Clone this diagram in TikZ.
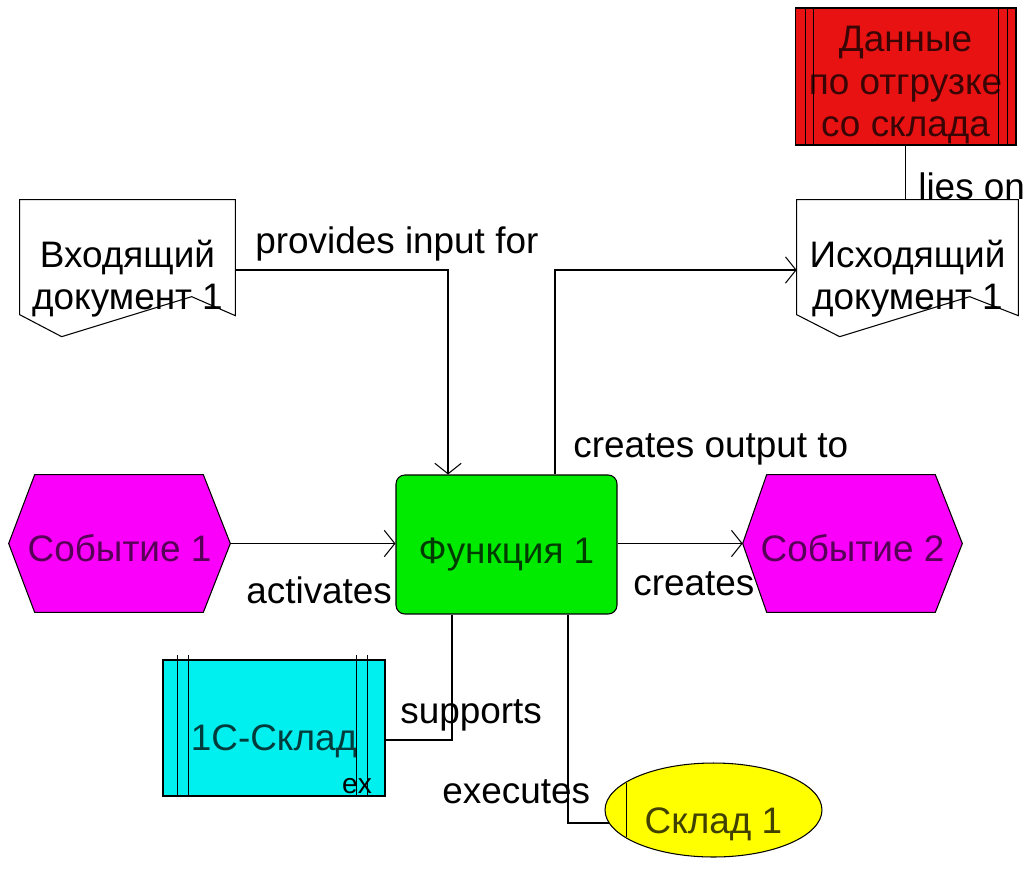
\documentclass[tikz,border=0pt]{standalone}
\usepackage{fontspec}
\setmainfont{Liberation Sans}
\usepackage{tikz}
\usetikzlibrary{arrows,shapes,calc}
\usetikzlibrary{arrows.meta,positioning,backgrounds}
\definecolor{evmag}{RGB}{250,0,250}
\definecolor{fngreen}{RGB}{0,235,0}
\definecolor{datared}{RGB}{232,18,18}
\definecolor{syscyan}{RGB}{0,240,240}
\definecolor{orgyel}{RGB}{255,255,0}
\tikzstyle{conn}=[draw,line width=0.6pt]
\tikzstyle{arrow}=[draw,-{Straight Barb[length=6pt,width=15pt]},line width=0.6pt]
\tikzstyle{lbl}=[anchor=base west,inner sep=0pt]
\tikzstyle{docbox}=[minimum height=3.2cm,align=center,inner sep=0pt,text height=34pt,text depth=0pt]
\tikzstyle{evbox}=[minimum height=2.74cm,inner sep=0pt,text=evmag!35!black,text height=20pt,text depth=0pt]
\tikzstyle{outline}=[draw,line width=0.6pt]

\begin{document}
\begin{tikzpicture}[x=0.02cm,y=-0.02cm,font=\fontsize{21}{24}\selectfont]
\useasboundingbox (0,0) rectangle (1028,890);

\node [docbox,minimum width=4.3cm] (indoc) at (127.5,280) {Входящий\\документ 1};
\node [docbox,minimum width=4.42cm] (outdoc) at (907.5,280) {Исходящий\\документ 1};
\node [draw,line width=0.6pt,fill=datared,text=datared!25!black,align=center,
  text height=68pt,text depth=0pt,
  minimum width=4.42cm,minimum height=2.74cm] (data) at (905.5,76.5) {Данные\\по отгрузке\\со склада};
\node [evbox,minimum width=4.42cm] (ev1) at (119.5,543.5) {Событие 1};
\node [evbox,minimum width=4.38cm] (ev2) at (852.5,543.5) {Событие 2};
\node [draw,line width=0.6pt,fill=fngreen,text=fngreen!25!black,rounded corners=5pt,
  text height=22pt,text depth=0pt,
  minimum width=4.42cm,minimum height=2.78cm] (func) at (506.5,544.5) {Функция 1};
\node [draw,line width=0.6pt,fill=syscyan,text=syscyan!25!black,
  text height=26pt,text depth=0pt,
  minimum width=4.44cm,minimum height=2.72cm] (sys) at (274,728) {1С-Склад};
\node [draw,line width=0.6pt,fill=orgyel,text=orgyel!25!black,ellipse,inner sep=0pt,
  text height=27pt,text depth=0pt,
  minimum width=4.34cm,minimum height=1.88cm] (store) at (713.5,810) {Склад 1};
\node [font=\fontsize{16}{18}\selectfont,inner sep=0pt] (sysex) at (357,786) {ex};

% shapes behind the texts
\begin{scope}[on background layer]
\draw [outline,fill=white] (indoc.north west) -- ++(0,115) -- ++(42,22) -- ++(130,-40)
  -- ($(indoc.north east)+(0,116)$) -- (indoc.north east) -- cycle;
\draw [outline,fill=white] (outdoc.north west) -- ++(0,115) -- ++(43,22) -- ++(130,-40)
  -- ($(outdoc.north east)+(0,116)$) -- (outdoc.north east) -- cycle;
\draw [outline,fill=evmag] (ev1.west) -- ($(ev1.north west)+(26,0)$) -- ($(ev1.north east)+(-27,0)$)
  -- (ev1.east) -- ($(ev1.south east)+(-27,0)$) -- ($(ev1.south west)+(26,0)$) -- cycle;
\draw [outline,fill=evmag] (ev2.west) -- ($(ev2.north west)+(24,0)$) -- ($(ev2.north east)+(-27,0)$)
  -- (ev2.east) -- ($(ev2.south east)+(-27,0)$) -- ($(ev2.south west)+(24,0)$) -- cycle;
\end{scope}

% double bars
\foreach \dx in {11,19} \draw [outline] ($(data.north west)+(\dx,0)$) -- ($(data.south west)+(\dx,0)$);
\foreach \dx in {-18,-9} \draw [outline] ($(data.north east)+(\dx,0)$) -- ($(data.south east)+(\dx,0)$);
\foreach \dx in {15,26} \draw [outline] ($(sys.north west)+(\dx,-4)$) -- ($(sys.south west)+(\dx,0)$);
\foreach \dx in {-29,-18} \draw [outline] ($(sys.north east)+(\dx,-4)$) -- ($(sys.south east)+(\dx,0)$);
\draw [outline] ($(store.west)+(22,-27)$) -- ($(store.west)+(22,27)$);

% connectors
\draw [arrow] ($(indoc.east)+(0,-10)$) -| ($(func.north)+(-58.5,0)$);
\draw [arrow] ($(func.north)+(48.5,0)$) |- ($(outdoc.west)+(0,-10)$);
\draw [arrow] (ev1.east) -- (ev1.east -| func.west);
\draw [arrow] (ev2.west -| func.east) -- (ev2.west);
\draw [conn] ($(func.south)+(-54.5,0)$) |- ($(sys.east)+(0,12)$);
\draw [conn] ($(func.south)+(61.5,0)$) |- ($(store.west)+(4,13)$);
\draw [conn] (data.south) -- (data.south |- outdoc.north);

\node [lbl] (lprov) at (255,253) {provides input for};
\node [lbl] (llies) at (918,199) {lies on};
\node [lbl] (lout) at (573,457) {creates output to};
\node [lbl] (lact) at (246,603) {activates};
\node [lbl] (lcre) at (633,595) {creates};
\node [lbl] (lsup) at (400,723) {supports};
\node [lbl] (lexe) at (442,803) {executes};
\end{tikzpicture}
\end{document}
